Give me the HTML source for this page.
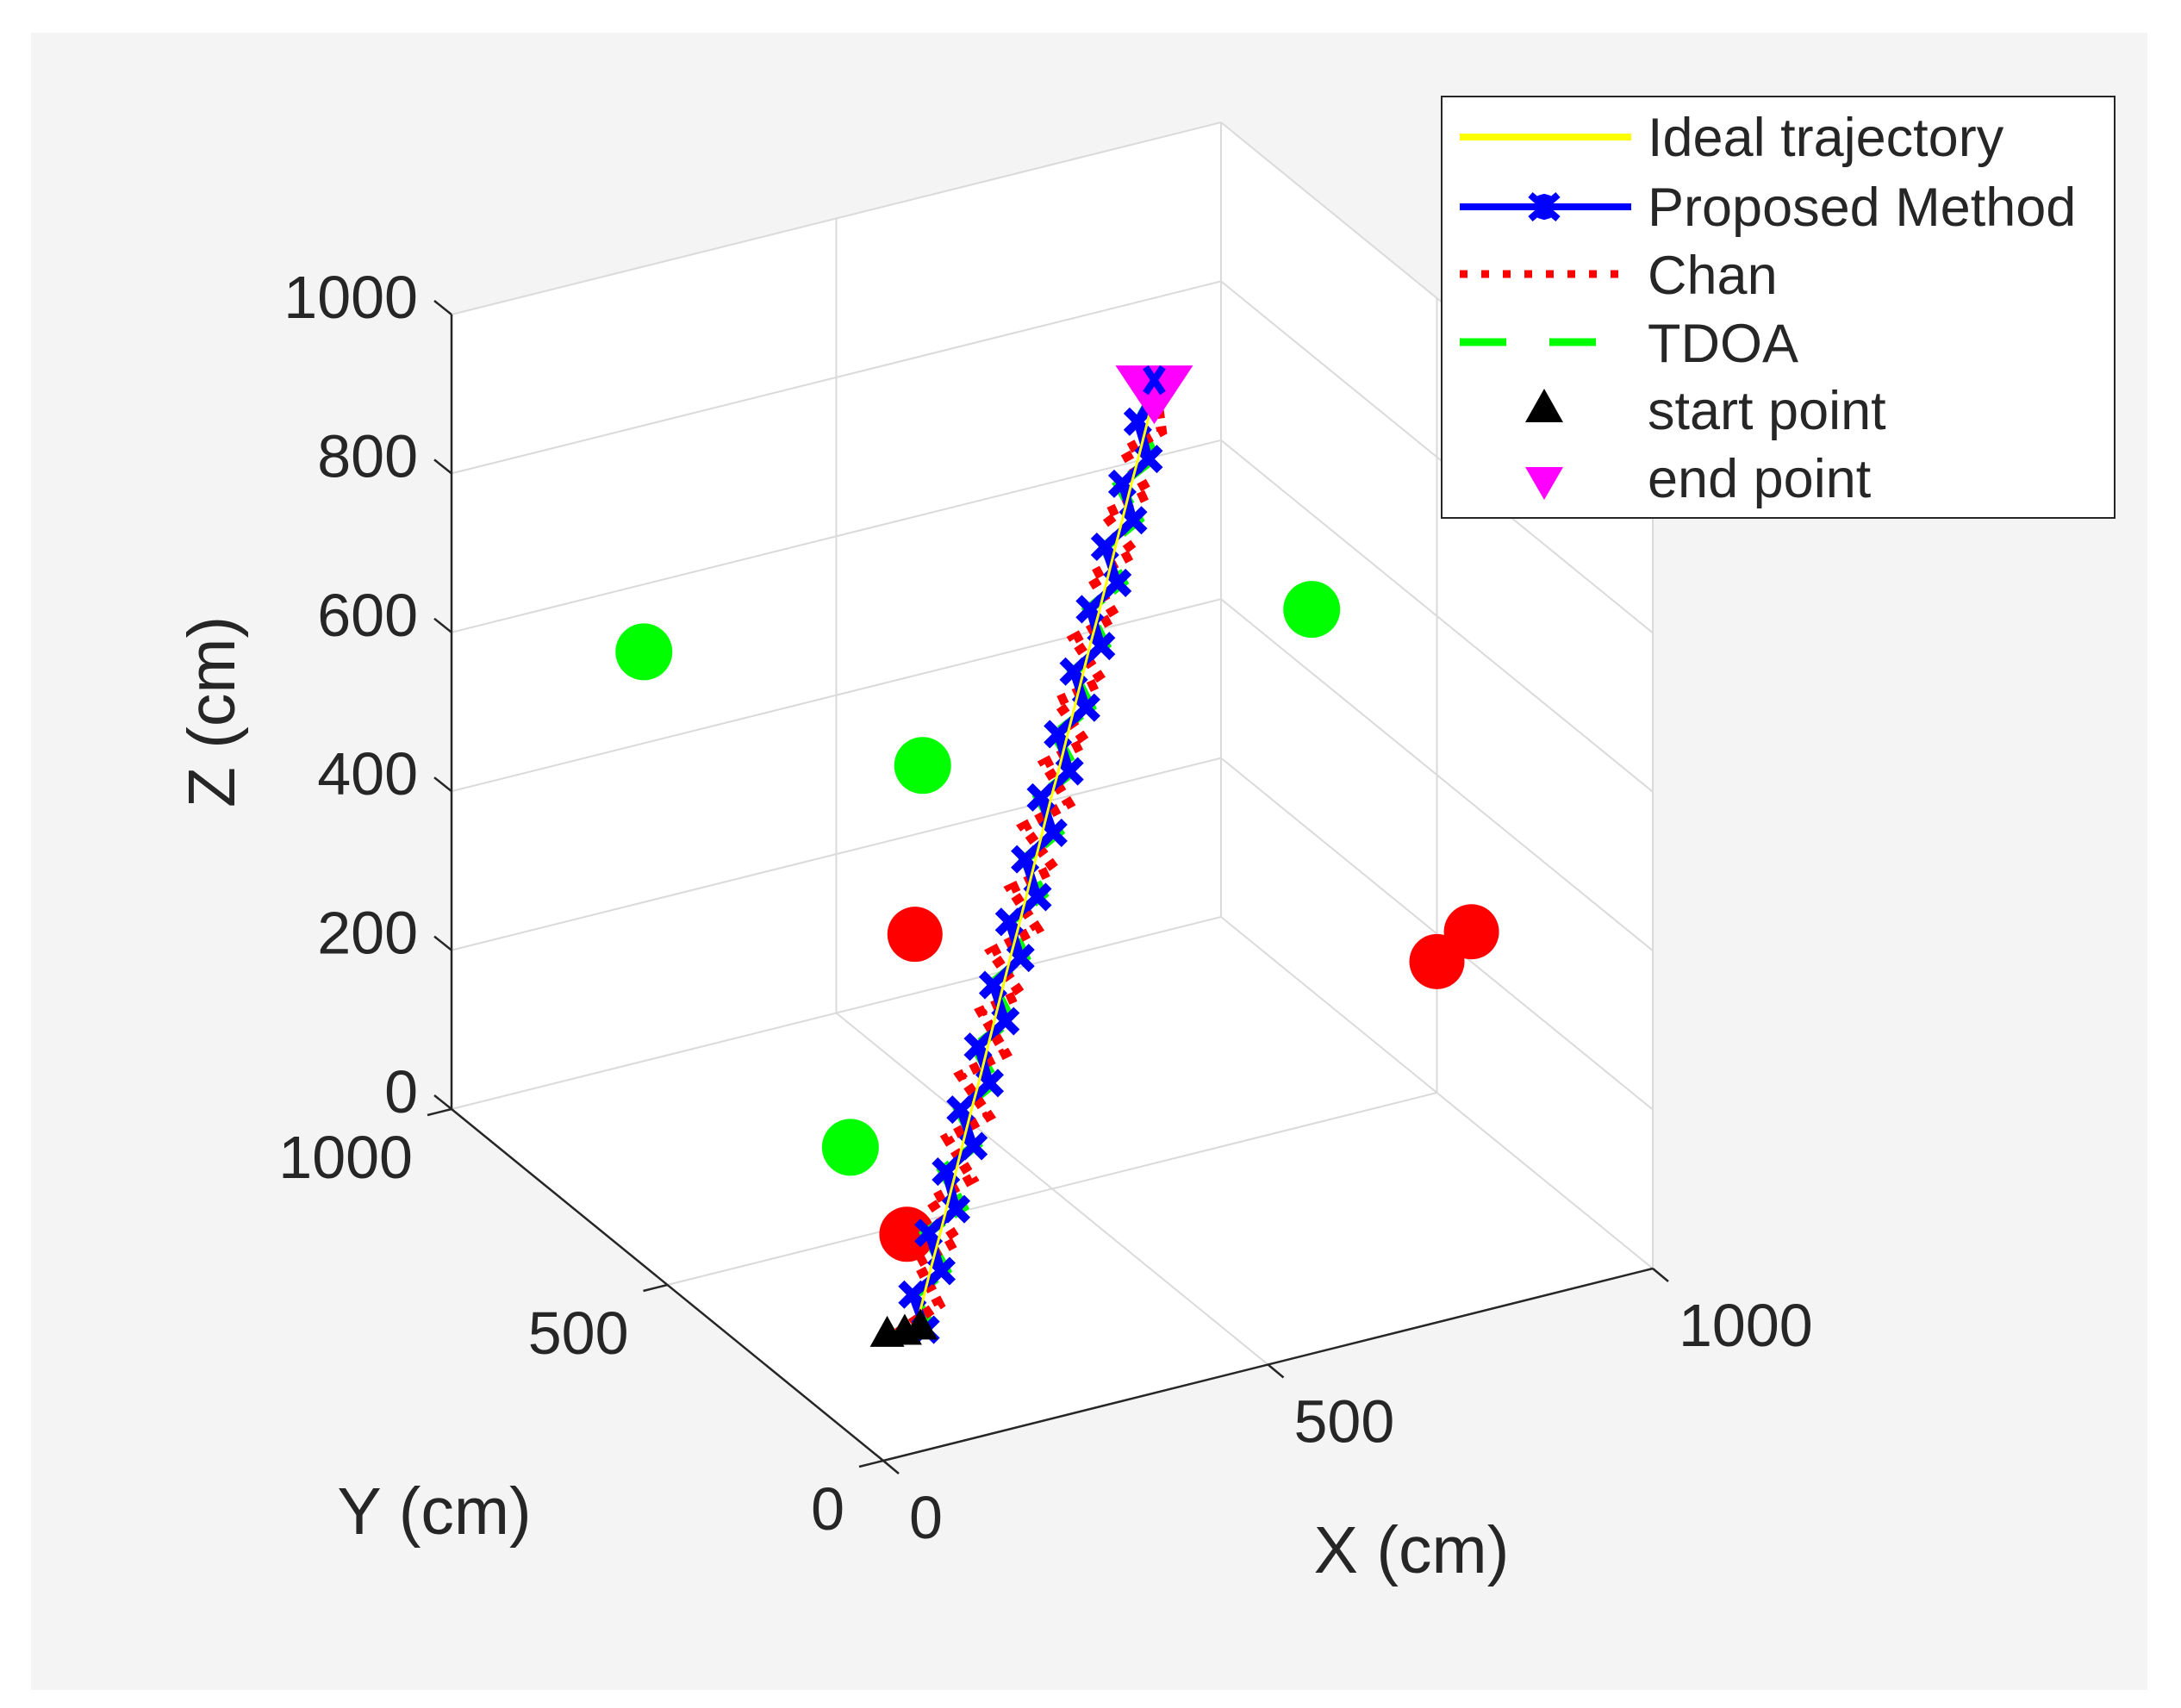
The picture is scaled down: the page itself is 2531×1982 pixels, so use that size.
<!DOCTYPE html>
<html><head><meta charset="utf-8"><style>
html,body{margin:0;padding:0;background:#fff;}
svg{display:block;font-family:"Liberation Sans",Arial,sans-serif;}
</style></head><body>
<svg id="chart" width="2531" height="1982" viewBox="0 0 2531 1982" xmlns="http://www.w3.org/2000/svg">
<rect x="36" y="38" width="2456" height="1923" fill="#f4f4f4"/>
<g id="plot"></g>
<g id="legend">
 <rect x="1673" y="112" width="781" height="489" fill="#fff" stroke="#262626" stroke-width="2"/>
 <g>
  <line x1="1694" y1="159" x2="1893" y2="159" stroke="#ffff00" stroke-width="8"/>
  <text x="1912" y="181" font-size="63" fill="#262626">Ideal trajectory</text></g>
 <g>
  <line x1="1694" y1="240" x2="1893" y2="240" stroke="#0000ff" stroke-width="8"/>
  <path d="M1776 226 L1808 254 M1776 254 L1808 226 M1788 226 L1796 254 M1788 254 L1796 226" stroke="#0000ff" stroke-width="8"/>
  <text x="1912" y="262" font-size="63" fill="#262626">Proposed Method</text></g>
 <g>
  <line x1="1694" y1="318" x2="1883" y2="318" stroke="#ff0000" stroke-width="9" stroke-dasharray="9,16"/>
  <text x="1912" y="341" font-size="63" fill="#262626">Chan</text></g>
 <g>
  <line x1="1694" y1="397" x2="1852" y2="397" stroke="#00ff00" stroke-width="9" stroke-dasharray="54,50"/>
  <text x="1912" y="420" font-size="63" fill="#262626">TDOA</text></g>
 <g>
  <polygon points="1792,451 1814,490 1770,490" fill="#000"/>
  <text x="1912" y="498" font-size="63" fill="#262626">start point</text></g>
 <g>
  <polygon points="1770,542 1814,542 1792,580" fill="#ff00ff"/>
  <text x="1912" y="577" font-size="63" fill="#262626">end point</text></g>
</g>
</svg>
<script>
const ticksXY = [0, 500, 1000];
const ticksZ = [0, 200, 400, 600, 800, 1000];
const gridXY = [500];
const idealX = [190,207,224,241,258,275,292,309,326,343,360,377,394,411,428,445,462,479,496,513,530,547,564,581,598,615,632,649,666,683,700];
const idealY = [265,277,289,300,312,324,336,348,359,371,383,395,407,418,430,442,454,466,477,489,501,513,525,536,548,560,572,584,595,607,620];
const idealZ = [0,30,60,90,120,150,180,210,240,270,300,330,360,390,420,450,480,510,540,570,600,630,660,690,720,750,780,810,840,870,900];
const blueX = [202,195,236,230,268,265,304,298,338,333,372,366,405,400,440,434,474,468,508,503,543,537,576,571,610,604,644,640,677,673,700];
const blueY = [262,280,286,305,309,327,333,352,356,374,380,398,404,421,427,445,451,469,474,492,498,516,522,539,545,563,569,587,592,610,620];
const blueZ = [0,38,55,96,115,155,175,214,236,275,295,334,356,395,414,455,476,514,535,575,596,635,655,695,716,755,776,815,835,875,900];
const redX = [170,225,210,262,240,295,275,330,305,365,345,398,372,432,410,468,440,500,480,535,510,570,545,600,580,638,612,670,650,700,700];
const redY = [270,272,295,296,318,320,342,344,364,368,388,391,412,414,435,438,459,462,482,485,506,509,530,532,553,556,577,580,600,603,615];
const redZ = [0,22,68,82,128,142,188,202,250,262,310,318,368,382,428,438,488,502,548,560,608,618,668,682,728,742,788,798,848,860,900];
const greenX = [212,190,246,222,280,258,312,292,348,325,382,360,414,395,450,428,484,460,518,495,552,530,584,563,620,598,654,630,688,668,700];
const greenY = [268,270,294,298,315,322,340,345,362,366,386,390,410,412,433,436,457,460,480,484,504,506,527,530,551,554,575,578,598,600,620];
const greenZ = [0,42,50,100,112,160,172,218,232,280,292,340,352,400,412,460,472,520,532,580,592,640,652,700,712,760,772,820,832,880,900];
const anchorGreenX = [250, 500, 350, 1000];
const anchorGreenY = [1000, 800, 700, 790];
const anchorGreenZ = [515, 400, 0, 480];
const anchorRedX = [490, 1000, 1000, 300];
const anchorRedY = [800, 500, 420, 480];
const anchorRedZ = [190, 165, 238, 0];

const NS = 'http://www.w3.org/2000/svg';
const plot = document.getElementById('plot');
function px(x, y, z) { return 1025 + 0.893 * x - 0.501 * y; }
function py(x, y, z) { return 1695 - 0.223 * x - 0.408 * y - 0.922 * z; }
function mk(tag, attrs) { const e = document.createElementNS(NS, tag); for (const k in attrs) e.setAttribute(k, attrs[k]); plot.appendChild(e); return e; }
function seg(a, b, stroke, w) { return mk('line', {x1: px(...a), y1: py(...a), x2: px(...b), y2: py(...b), stroke: stroke, 'stroke-width': w}); }

const faces = [[0,1000,1000],[0,1000,0],[0,0,0],[1000,0,0],[1000,0,1000],[1000,1000,1000]];
const bg = mk('polygon', {points: faces.map(p => px(...p) + ',' + py(...p)).join(' '), fill: '#fff'});



const gc = '#dadada';
ticksZ.forEach(z => {
  const g1 = seg([0,1000,z],[1000,1000,z], gc, 2);
  
  
  const g2 = seg([1000,1000,z],[1000,0,z], gc, 2);
  
  
});
gridXY.concat([1000]).forEach(v => {
  const a = seg([v,1000,0],[v,1000,1000], gc, 2);
  
  
  const b = seg([1000,v === 1000 ? 0 : v,0],[1000,v === 1000 ? 0 : v,1000], gc, 2);
  
  
});
gridXY.forEach(v => {
  const a = seg([v,0,0],[v,1000,0], gc, 2);
  
  
  const b = seg([0,v,0],[1000,v,0], gc, 2);
  
  
});

const ac = '#262626';
const za = seg([0,1000,0],[0,1000,1000], ac, 2.5);


const ya = seg([0,0,0],[0,1000,0], ac, 2.5);


const xa = seg([0,0,0],[1000,0,0], ac, 2.5);



function txt(s, x, y, size, anchor, name) {
  const t = mk('text', {x: x, y: y, 'font-size': size, fill: '#262626', 'text-anchor': anchor});
  t.textContent = s;
  
  
  return t;
}
ticksZ.forEach(z => {
  const x0 = px(0,1000,z), y0 = py(0,1000,z);
  const t = mk('line', {x1: x0, y1: y0, x2: x0 - 20, y2: y0 - 16, stroke: ac, 'stroke-width': 2.5});
  
  
  txt(String(z), x0 - 39, y0 + 4, 70, 'end', 'z-tick-label');
});
ticksXY.forEach(v => {
  const x0 = px(0,v,0), y0 = py(0,v,0);
  const t = mk('line', {x1: x0, y1: y0, x2: x0 - 28, y2: y0 + 7, stroke: ac, 'stroke-width': 2.5});
  
  
  txt(String(v), x0 - 45, y0 + 80, 70, 'end', 'y-tick-label');
  const x1 = px(v,0,0), y1 = py(v,0,0);
  const t2 = mk('line', {x1: x1, y1: y1, x2: x1 + 18, y2: y1 + 15, stroke: ac, 'stroke-width': 2.5});
  
  
  txt(String(v), x1 + 30, y1 + 90, 70, 'start', 'x-tick-label');
});
txt('X (cm)', 1638, 1825, 77, 'middle', 'x-axis-title');
txt('Y (cm)', 504, 1780, 77, 'middle', 'y-axis-title');
const zt = txt('Z (cm)', 0, 0, 77, 'middle', 'z-axis-title');
zt.setAttribute('transform', 'translate(272,826) rotate(-90)');

anchorGreenX.forEach((x, i) => {
  const c = mk('circle', {cx: px(x, anchorGreenY[i], anchorGreenZ[i]), cy: py(x, anchorGreenY[i], anchorGreenZ[i]), r: 33, fill: '#00ff00'});
  
  
});
anchorRedX.forEach((x, i) => {
  const c = mk('circle', {cx: px(x, anchorRedY[i], anchorRedZ[i]), cy: py(x, anchorRedY[i], anchorRedZ[i]), r: 32, fill: '#ff0000'});
  
  
});

function pts(X, Y, Z) { return X.map((x, i) => px(x, Y[i], Z[i]).toFixed(1) + ',' + py(x, Y[i], Z[i]).toFixed(1)).join(' '); }
const gl = mk('polyline', {points: pts(greenX, greenY, greenZ), fill: 'none', stroke: '#00ff00', 'stroke-width': 12, 'stroke-dasharray': '30,14'});


const rl = mk('polyline', {points: pts(redX, redY, redZ), fill: 'none', stroke: '#ff0000', 'stroke-width': 12, 'stroke-dasharray': '10,9'});


const bl = mk('polyline', {points: pts(blueX, blueY, blueZ), fill: 'none', stroke: '#0000ff', 'stroke-width': 10});


blueX.forEach((x, i) => {
  const cx = px(x, blueY[i], blueZ[i]), cy = py(x, blueY[i], blueZ[i]);
  const m = mk('path', {d: `M${cx-13} ${cy-13}L${cx+13} ${cy+13}M${cx-13} ${cy+13}L${cx+13} ${cy-13}`, stroke: '#0000ff', 'stroke-width': 10});
  
  
});
const il = mk('polyline', {points: pts(idealX, idealY, idealZ), fill: 'none', stroke: '#ffff00', 'stroke-width': 3});



[[idealX, idealY, idealZ], [redX, redY, redZ], [greenX, greenY, greenZ]].forEach(s => {
  const cx = px(s[0][0], s[1][0], s[2][0]) - 12, cy = py(s[0][0], s[1][0], s[2][0]);
  const t = mk('polygon', {points: `${cx},${cy-20} ${cx+20},${cy+16} ${cx-20},${cy+16}`, fill: '#000'});
  
  
});
const n = idealX.length - 1;
const ex = px(idealX[n], idealY[n], idealZ[n]), ey = py(idealX[n], idealY[n], idealZ[n]);
const e = mk('polygon', {points: `${ex-45},${ey-32} ${ex+45},${ey-32} ${ex},${ey+36}`, fill: '#ff00ff'});


const eb = mk('path', {d: `M${ex-10} ${ey-30}L${ex+10} ${ey}M${ex-10} ${ey}L${ex+10} ${ey-30}`, stroke: '#0000ff', 'stroke-width': 8});


</script>
</body></html>
